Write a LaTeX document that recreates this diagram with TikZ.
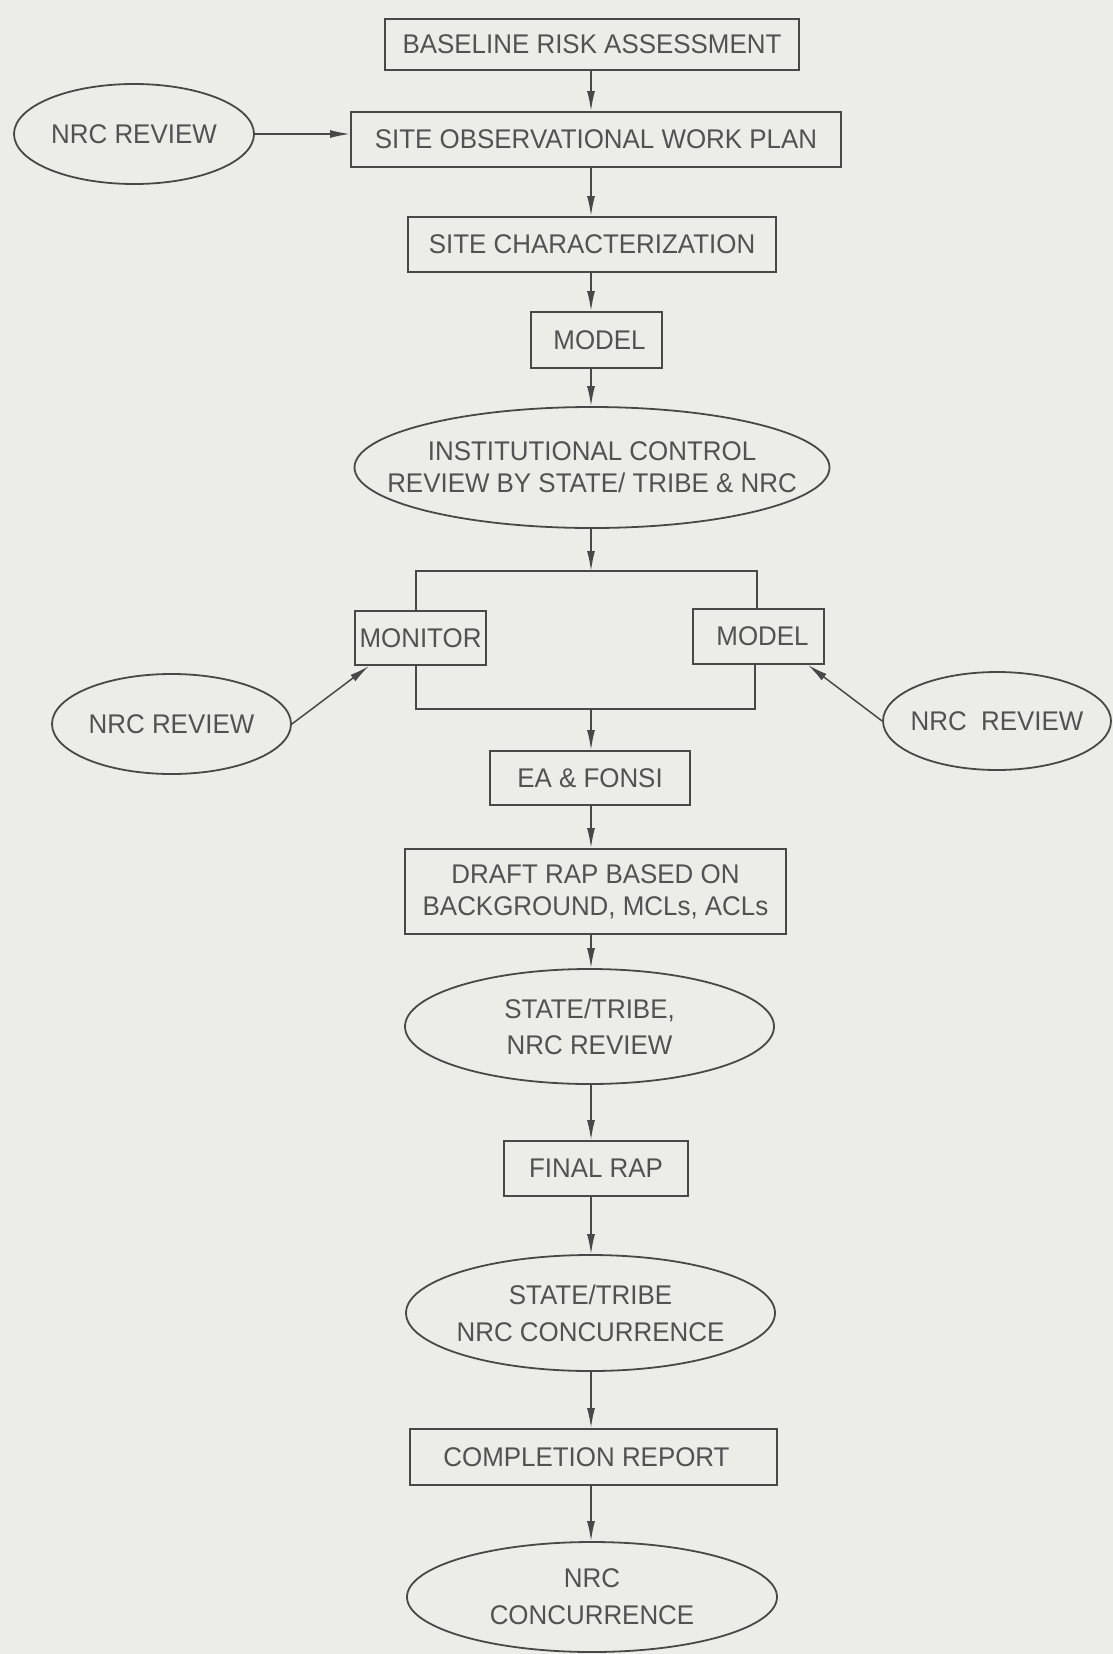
\documentclass[tikz,border=0pt]{standalone}
\usepackage{fontspec}
\setmainfont[FakeStretch=0.96]{Liberation Sans}
\usetikzlibrary{shapes.geometric,arrows.meta,calc}
\definecolor{bg}{RGB}{236,236,232}
\definecolor{ink}{RGB}{72,72,72}
\definecolor{txt}{RGB}{82,82,82}
\begin{document}
\begin{tikzpicture}[x=1pt,y=-1pt,
  every node/.style={text=txt, font=\fontsize{27}{34}\selectfont, align=center, inner sep=0pt},
  box/.style={draw=ink, line width=2pt, rectangle},
  oval/.style={draw=ink, line width=1.8pt, ellipse},
  wire/.style={draw=ink, line width=1.6pt},
  flow/.style={draw=ink, line width=1.5pt, -{Latex[length=20pt,width=8pt]}},
]
\fill[bg] (0,0) rectangle (1113,1654);
\useasboundingbox (0,0) rectangle (1113,1654);

\coordinate (ax) at (591,0);

% main column
\node[box, minimum width=414pt, minimum height=51pt] (bra) at (592,44.5) {BASELINE RISK ASSESSMENT};
\node[box, minimum width=490pt, minimum height=55pt] (sow) at (596,139.5) {SITE OBSERVATIONAL WORK PLAN};
\node[box, minimum width=368pt, minimum height=55pt] (sch) at (592,244.5) {SITE CHARACTERIZATION};
\node[box, minimum width=131pt, minimum height=56pt] (mod1) at (596.5,340) {\hspace*{6pt}MODEL};
\node[oval, minimum width=475pt, minimum height=121pt,
      label={[font=\fontsize{27}{32}\selectfont]center:INSTITUTIONAL CONTROL\\REVIEW BY STATE/ TRIBE \& NRC}] (ic) at (592,467.5) {};

\node[box, minimum width=131pt, minimum height=54pt] (mon) at (420.5,638) {MONITOR};
\node[box, minimum width=131pt, minimum height=55pt] (mdl) at (758.5,636.5) {\hspace*{8pt}MODEL};

\node[box, minimum width=200pt, minimum height=54pt] (ea) at (590,778) {EA \& FONSI};
\node[box, minimum width=381pt, minimum height=85pt, font=\fontsize{27}{32}\selectfont] (draft) at (595.5,891.5) {DRAFT RAP BASED ON\\BACKGROUND, MCLs, ACLs};
\node[oval, minimum width=369pt, minimum height=115pt,
      label={[font=\fontsize{27}{36}\selectfont]center:STATE/TRIBE,\\NRC REVIEW}] (rev) at (589.5,1026.5) {};
\node[box, minimum width=184pt, minimum height=55pt] (final) at (596,1168.5) {FINAL RAP};
\node[oval, minimum width=369pt, minimum height=116pt,
      label={[font=\fontsize{27}{37}\selectfont]center:STATE/TRIBE\\NRC CONCURRENCE}] (conc) at (590.5,1313) {};
\node[box, minimum width=367pt, minimum height=56pt] (comp) at (593.5,1457) {COMPLETION REPORT\hspace*{14pt}};
\node[oval, minimum width=370pt, minimum height=110pt,
      label={[font=\fontsize{27}{37}\selectfont]center:NRC\\CONCURRENCE}] (nrcc) at (592,1597) {};

% side reviews
\node[oval, minimum width=240pt, minimum height=100pt, label=center:NRC REVIEW] (nrcT) at (134,134) {};
\node[oval, minimum width=239pt, minimum height=100pt, label=center:NRC REVIEW] (nrcL) at (171.5,724) {};
\node[oval, minimum width=228pt, minimum height=98pt, label=center:NRC\ \ REVIEW] (nrcR) at (997,721) {};

% bracket corners
\coordinate (brTL) at (416,571);
\coordinate (brTR) at (757,571);
\coordinate (brBL) at (416,709);
\coordinate (brBR) at (755,709);

\draw[wire] (mon.north -| brTL) -- (brTL) -- (brTR) -- (mdl.north -| brTR);
\draw[wire] (mon.south -| brBL) -- (brBL) -- (brBR) -- (mdl.south -| brBR);

% main flow arrows
\draw[flow] (bra.south -| ax) -- (sow.north -| ax);
\draw[flow] (sow.south -| ax) -- (sch.north -| ax);
\draw[flow] (sch.south -| ax) -- (mod1.north -| ax);
\draw[flow] (mod1.south -| ax) -- (ic.north -| ax);
\draw[flow] (ic.south -| ax) -- (brTL -| ax);
\draw[flow] (brBL -| ax) -- (ea.north -| ax);
\draw[flow] (ea.south -| ax) -- (draft.north -| ax);
\draw[flow] (draft.south -| ax) -- (rev.north -| ax);
\draw[flow] (rev.south -| ax) -- (final.north -| ax);
\draw[flow] (final.south -| ax) -- (conc.north -| ax);
\draw[flow] (conc.south -| ax) -- (comp.north -| ax);
\draw[flow] (comp.south -| ax) -- (nrcc.north -| ax);

% review arrows
\draw[flow] (nrcT.east) -- (sow.west |- nrcT.east);
\draw[flow] (nrcL.east) -- ($(mon.south west)+(15,0)$);
\draw[flow] (nrcR.west) -- ($(mdl.south east)+(-17,0)$);
\end{tikzpicture}
\end{document}
